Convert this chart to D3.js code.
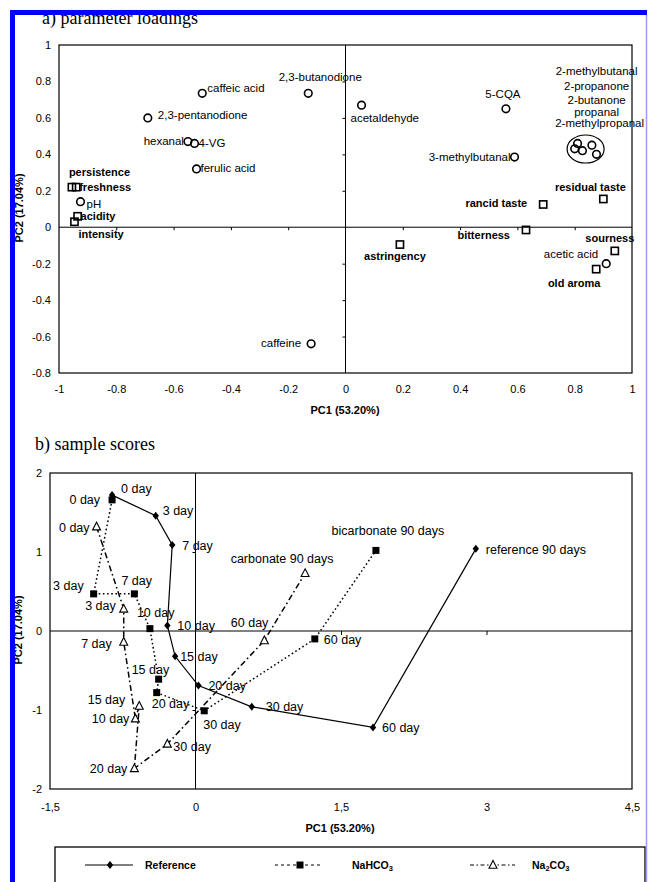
<!DOCTYPE html>
<html><head><meta charset="utf-8">
<script src="https://cdn.jsdelivr.net/npm/d3@7"></script>
<style>html,body{margin:0;padding:0;background:#fff}svg{display:block}</style>
</head><body>
<svg id="c" width="648" height="882"></svg>
<script>
// ---------- DATA: a) parameter loadings ----------
const loadNames = ["caffeic acid","2,3-butanodione","2,3-pentanodione","hexanal","4-VG","ferulic acid",
  "persistence","freshness","pH","acidity","intensity","caffeine","acetaldehyde","5-CQA","3-methylbutanal",
  "residual taste","rancid taste","bitterness","astringency","sourness","acetic acid","old aroma"];
const loadPC1 = [-0.50,-0.13,-0.69,-0.55,-0.527,-0.52,-0.955,-0.94,-0.925,-0.935,-0.946,-0.12,0.056,0.56,0.59,
  0.90,0.69,0.63,0.19,0.94,0.91,0.875];
const loadPC2 = [0.735,0.735,0.60,0.47,0.46,0.32,0.22,0.22,0.14,0.06,0.03,-0.64,0.67,0.65,0.385,
  0.155,0.125,-0.015,-0.095,-0.13,-0.20,-0.23];
const loadKind = ["c","c","c","c","c","c","s","s","c","s","s","c","c","c","c","s","s","s","s","s","c","s"]; // c = compound, s = sensory
const clusterPC1 = [0.80,0.81,0.827,0.86,0.876];
const clusterPC2 = [0.43,0.46,0.42,0.45,0.40];
const clusterNames = ["2-methylbutanal","2-propanone","2-butanone","propanal","2-methylpropanal"];
const ticksA_x = [-1,-0.8,-0.6,-0.4,-0.2,0,0.2,0.4,0.6,0.8,1];
const ticksA_y = [-0.8,-0.6,-0.4,-0.2,0,0.2,0.4,0.6,0.8,1];

// ---------- DATA: b) sample scores ----------
const days = ["0 day","3 day","7 day","10 day","15 day","20 day","30 day","60 day","90 days"];
const refPC1 = [-0.86,-0.41,-0.24,-0.29,-0.21,0.03,0.58,1.83,2.89];
const refPC2 = [1.72,1.46,1.09,0.07,-0.32,-0.69,-0.96,-1.22,1.04];
const bicPC1 = [-0.86,-1.05,-0.63,-0.47,-0.38,-0.40,0.09,1.23,1.86];
const bicPC2 = [1.66,0.47,0.47,0.03,-0.61,-0.78,-1.01,-0.10,1.02];
const carPC1 = [-1.02,-0.74,-0.74,-0.62,-0.58,-0.63,-0.29,0.71,1.13];
const carPC2 = [1.32,0.28,-0.14,-1.11,-0.95,-1.74,-1.43,-0.12,0.73];
const seriesNames = ["Reference","NaHCO3","Na2CO3"];
const lastLabels = ["reference 90 days","bicarbonate 90 days","carbonate 90 days"];
const ticksB_x = [-1.5,0,1.5,3,4.5];
const ticksB_x_labels = ["-1,5","0","1,5","3","4,5"];
const ticksB_y = [-2,-1,0,1,2];

// ---------- LAYOUT (label placement: dx, dy to label centre, anchor) ----------
const placeA = {
  "caffeic acid":[5,-5,"start"],"2,3-butanodione":[12,-16,"middle"],"2,3-pentanodione":[10,-3,"start"],
  "hexanal":[-4,-1,"end"],"4-VG":[4,0,"start"],"ferulic acid":[4,-1,"start"],
  "persistence":[-3,-15,"start"],"freshness":[3,0,"start"],"pH":[6,2,"start"],"acidity":[3,0,"start"],
  "intensity":[4,12,"start"],"caffeine":[-10,-1,"end"],"acetaldehyde":[-11,13,"start"],"5-CQA":[-3,-15,"middle"],
  "3-methylbutanal":[-4,0,"end"],"residual taste":[-13,-12,"middle"],"rancid taste":[-16,-1,"end"],
  "bitterness":[-16,5,"end"],"astringency":[-5,11,"middle"],"sourness":[-5,-13,"middle"],
  "acetic acid":[-8,-10,"end"],"old aroma":[-22,14,"middle"]
};
const clusterLabelDy = [-78,-63,-49,-37,-26];
const placeB = [
  [[9,-7,"start"],[7,-5,"start"],[10,1,"start"],[10,0,"start"],[5,0,"start"],[10,0,"start"],[14,0,"start"],[9,0,"start"],[10,1,"start"]],
  [[-12,0,"end"],[-10,-8,"end"],[-13,-13,"start"],[-13,-16,"start"],[-27,-10,"start"],[-5,11,"start"],[-1,14,"start"],[9,1,"start"],[12,-20,"middle"]],
  [[-7,1,"end"],[-8,-3,"end"],[-12,1,"end"],[-6,0,"end"],[-14,-7,"end"],[-7,0,"end"],[6,3,"start"],[4,-18,"end"],[-23,-15,"middle"]]
];

const svg = d3.select("#c");
const SANS = "'Liberation Sans', Arial, sans-serif";
const SERIF = "'Liberation Serif', 'Times New Roman', serif";

// ================= Chart a =================
const xA = d3.scaleLinear().domain([-1,1]).range([59,632]);
const yA = d3.scaleLinear().domain([-0.8,1]).range([373,45]);
const gA = svg.append("g");

gA.append("text").attr("x",42).attr("y",24).attr("font-family",SERIF).attr("font-size",18).text("a) parameter loadings");
gA.append("rect").attr("x",59).attr("y",45).attr("width",632-59).attr("height",373-45)
  .attr("fill","none").attr("stroke","#000").attr("stroke-width",1.2);

gA.append("g").attr("transform",`translate(0,${yA(0)})`)
  .call(d3.axisBottom(xA).tickValues(ticksA_x.filter(d=>d>-1&&d<1&&d!==0)).tickSize(3).tickFormat(""))
  .call(g=>{g.select(".domain").attr("stroke","#000").attr("d",`M${xA(-1)},0H${xA(1)}`);});
gA.append("g").attr("transform",`translate(${xA(0)},0)`)
  .call(d3.axisLeft(yA).tickValues(ticksA_y.filter(d=>d>-0.8&&d<1&&d!==0)).tickSize(3).tickFormat(""))
  .call(g=>{g.select(".domain").attr("stroke","#000").attr("d",`M0,${yA(1)}V${yA(-0.8)}`);});

gA.append("g").attr("transform",`translate(0,${yA(-0.8)})`)
  .call(d3.axisBottom(xA).tickValues(ticksA_x).tickSize(0).tickPadding(12).tickFormat(d=>String(d)))
  .call(g=>{g.select(".domain").remove();g.selectAll("text").attr("font-family",SANS).attr("font-size",11).attr("fill","#000");});
gA.append("g").attr("transform",`translate(${xA(-1)},0)`)
  .call(d3.axisLeft(yA).tickValues(ticksA_y).tickSize(0).tickPadding(8).tickFormat(d=>String(d)))
  .call(g=>{g.select(".domain").remove();g.selectAll("text").attr("font-family",SANS).attr("font-size",11).attr("fill","#000");});

gA.append("text").attr("x",345).attr("y",414).attr("text-anchor","middle").attr("font-family",SANS)
  .attr("font-size",11).attr("font-weight","bold").text("PC1 (53.20%)");
gA.append("text").attr("transform","translate(23,208) rotate(-90)").attr("text-anchor","middle").attr("font-family",SANS)
  .attr("font-size",11).attr("font-weight","bold").text("PC2 (17.04%)");

const loadData = loadNames.map((n,i)=>({n, x:loadPC1[i], y:loadPC2[i], k:loadKind[i]}));
gA.selectAll("circle.ld").data(loadData.filter(d=>d.k==="c")).join("circle").attr("class","ld")
  .attr("cx",d=>xA(d.x)).attr("cy",d=>yA(d.y)).attr("r",3.8)
  .attr("fill","none").attr("stroke","#000").attr("stroke-width",1.6);
gA.selectAll("rect.ld").data(loadData.filter(d=>d.k==="s")).join("rect").attr("class","ld")
  .attr("x",d=>xA(d.x)-3.6).attr("y",d=>yA(d.y)-3.6).attr("width",7.2).attr("height",7.2)
  .attr("fill","none").attr("stroke","#000").attr("stroke-width",1.6);
gA.selectAll("text.ld").data(loadData).join("text").attr("class","ld")
  .attr("x",d=>xA(d.x)+placeA[d.n][0]).attr("y",d=>yA(d.y)+placeA[d.n][1]+4)
  .attr("text-anchor",d=>placeA[d.n][2]).attr("font-family",SANS).attr("font-size",d=>d.k==="s"?11:11.5)
  .attr("font-weight",d=>d.k==="s"?"bold":"normal").text(d=>d.n);

const cData = clusterPC1.map((x,i)=>({x, y:clusterPC2[i]}));
const cx = d3.mean(cData,d=>xA(d.x)), cy = d3.mean(cData,d=>yA(d.y));
gA.append("ellipse").attr("cx",cx+1).attr("cy",cy+0.5).attr("rx",18.5).attr("ry",14)
  .attr("fill","none").attr("stroke","#000").attr("stroke-width",1.2);
gA.selectAll("circle.cl").data(cData).join("circle").attr("class","cl")
  .attr("cx",d=>xA(d.x)).attr("cy",d=>yA(d.y)).attr("r",3.8)
  .attr("fill","none").attr("stroke","#000").attr("stroke-width",1.6);
gA.selectAll("text.cl").data(clusterNames).join("text").attr("class","cl")
  .attr("x",(d,i)=>cx+ (i===4?15:12)).attr("y",(d,i)=>cy+clusterLabelDy[i]+4)
  .attr("text-anchor","middle").attr("font-family",SANS).attr("font-size",11.5).text(d=>d);

// ================= Chart b =================
const xB = d3.scaleLinear().domain([-1.5,4.5]).range([50,632]);
const yB = d3.scaleLinear().domain([-2,2]).range([789,473]);
const gB = svg.append("g");

gB.append("text").attr("x",35).attr("y",450).attr("font-family",SERIF).attr("font-size",18).text("b) sample scores");
gB.append("rect").attr("x",50).attr("y",473).attr("width",632-50).attr("height",789-473)
  .attr("fill","none").attr("stroke","#000").attr("stroke-width",1.2);

gB.append("g").attr("transform",`translate(0,${yB(0)})`)
  .call(d3.axisBottom(xB).tickValues([1.5,3]).tickSize(4).tickFormat(""))
  .call(g=>{g.select(".domain").attr("stroke","#000").attr("d",`M${xB(-1.5)},0H${xB(4.5)}`);});
gB.append("g").attr("transform",`translate(${xB(0)},0)`)
  .call(d3.axisLeft(yB).tickValues([-1,1]).tickSize(3).tickFormat(""))
  .call(g=>{g.select(".domain").attr("stroke","#000").attr("d",`M0,${yB(2)}V${yB(-2)}`);});

gB.append("g").attr("transform",`translate(0,${yB(-2)})`)
  .call(d3.axisBottom(xB).tickValues(ticksB_x).tickSize(0).tickPadding(14).tickFormat((d,i)=>ticksB_x_labels[i]))
  .call(g=>{g.select(".domain").remove();g.selectAll("text").attr("font-family",SANS).attr("font-size",11).attr("fill","#000");});
gB.append("g").attr("transform",`translate(${xB(-1.5)},0)`)
  .call(d3.axisLeft(yB).tickValues(ticksB_y).tickSize(0).tickPadding(8).tickFormat(d=>String(d)))
  .call(g=>{g.select(".domain").remove();g.selectAll("text").attr("font-family",SANS).attr("font-size",11).attr("fill","#000");});

gB.append("text").attr("x",340).attr("y",832).attr("text-anchor","middle").attr("font-family",SANS)
  .attr("font-size",11).attr("font-weight","bold").text("PC1 (53.20%)");
gB.append("text").attr("transform","translate(22,630) rotate(-90)").attr("text-anchor","middle").attr("font-family",SANS)
  .attr("font-size",11).attr("font-weight","bold").text("PC2 (17.04%)");

const series = [
  {xs:refPC1, ys:refPC2, dash:null, sym:"diamond"},
  {xs:bicPC1, ys:bicPC2, dash:"1.6,2.6", sym:"square"},
  {xs:carPC1, ys:carPC2, dash:"6,3,1.6,3", sym:"triangle"}
];
function drawSym(g, sym, x, y){
  if(sym==="diamond") g.append("path").attr("d",`M${x},${y-4}L${x+3.2},${y}L${x},${y+4}L${x-3.2},${y}Z`).attr("fill","#000");
  else if(sym==="square") g.append("rect").attr("x",x-3.5).attr("y",y-3.5).attr("width",7).attr("height",7).attr("fill","#000");
  else g.append("path").attr("d",`M${x},${y-4.5}L${x+4},${y+3.2}L${x-4},${y+3.2}Z`).attr("fill","#fff").attr("stroke","#000").attr("stroke-width",1.1);
}
series.forEach((s,si)=>{
  const pts = s.xs.map((x,i)=>[xB(x), yB(s.ys[i])]);
  const line = d3.line().curve(d3.curveLinear);
  gB.append("path").attr("d",line(pts)).attr("fill","none").attr("stroke","#000")
    .attr("stroke-width",si===0?1.2:1.5).attr("stroke-dasharray",s.dash);
});
series.forEach((s,si)=>{
  s.xs.forEach((x,i)=>{
    const px=xB(x), py=yB(s.ys[i]);
    drawSym(gB, s.sym, px, py);
    const p = placeB[si][i];
    gB.append("text").attr("x",px+p[0]).attr("y",py+p[1]+4.5).attr("text-anchor",p[2])
      .attr("font-family",SANS).attr("font-size",12.5).text(i===days.length-1?lastLabels[si]:days[i]);
  });
});

// ================= Legend =================
const gL = svg.append("g");
gL.append("rect").attr("x",55).attr("y",847).attr("width",645-55).attr("height",60)
  .attr("fill","none").attr("stroke","#000").attr("stroke-width",1.3);
const legX = [[85,133,110,145],[275,323,300,352],[470,515,493,532]];
series.forEach((s,si)=>{
  const [x1,x2,xm,xt] = legX[si];
  gL.append("line").attr("x1",x1).attr("x2",x2).attr("y1",865).attr("y2",865).attr("stroke","#000")
    .attr("stroke-width",1.2).attr("stroke-dasharray",si===0?null:(si===1?"3,3":"4,2.5,1.5,2.5"));
  drawSym(gL, s.sym, xm, 865);
  const t = gL.append("text").attr("x",xt).attr("y",869).attr("font-family",SANS).attr("font-size",10.5).attr("font-weight","bold");
  if(si===0) t.text("Reference");
  else if(si===1){ t.append("tspan").text("NaHCO"); t.append("tspan").attr("font-size",7.5).attr("dy",2).text("3"); }
  else { t.append("tspan").text("Na"); t.append("tspan").attr("font-size",7.5).attr("dy",2).text("2");
         t.append("tspan").attr("dy",-2).text("CO"); t.append("tspan").attr("font-size",7.5).attr("dy",2).text("3"); }
});

// ================= Border =================
svg.append("rect").attr("x",10).attr("y",10).attr("width",5).attr("height",872).attr("fill","#0000ff");
svg.append("rect").attr("x",10).attr("y",10).attr("width",637).attr("height",5).attr("fill","#0000ff");
svg.append("line").attr("x1",646.5).attr("x2",646.5).attr("y1",15).attr("y2",882).attr("stroke","#9a9aff").attr("stroke-width",1.5);
</script>
</body></html>
